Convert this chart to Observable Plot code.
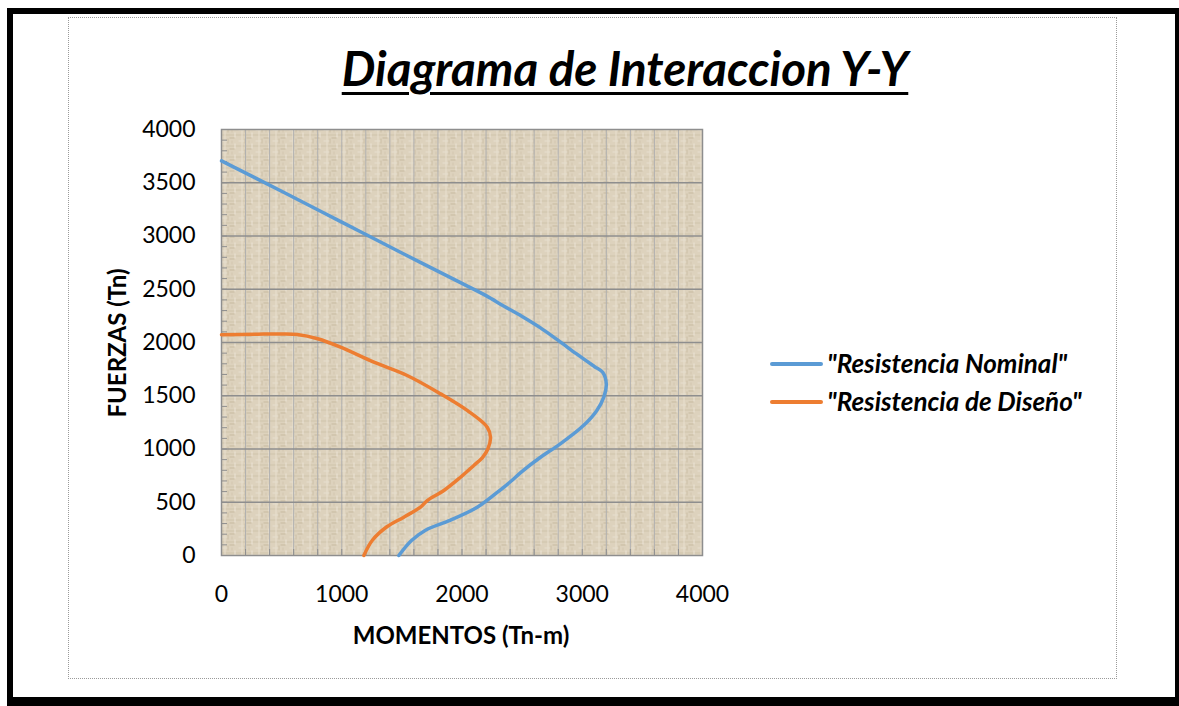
<!DOCTYPE html>
<html>
<head>
<meta charset="utf-8">
<script src="https://cdn.jsdelivr.net/npm/d3@7"></script>
<script src="https://cdn.jsdelivr.net/npm/@observablehq/plot@0.6"></script>
<style>
  html, body { margin: 0; padding: 0; background: #fff; width: 1179px; height: 706px; overflow: hidden; font-family: Lato, "Open Sans", sans-serif; }
  #outer { position: absolute; left: 7px; top: 8px; width: 1174px; height: 699px; box-sizing: border-box; border: 6px solid #000; border-bottom-width: 10px; }
  #inner { position: absolute; left: 68px; top: 17px; width: 1049px; height: 662px; box-sizing: border-box; border: 1px dotted #9a9a9a; }
  #chart { position: absolute; left: 0; top: 0; }
  .t { position: absolute; white-space: nowrap; line-height: 1; color: #000; }
  #title { left: 625px; top: 44px; transform: translateX(-50%); font-size: 47.5px; font-weight: bold; font-style: italic; text-decoration: underline; text-decoration-thickness: 3px; text-underline-offset: 6px; }
  #xlabel { left: 461px; top: 636px; transform: translate(-50%, -53%); font-size: 24px; font-weight: bold; }
  #ylabel { left: 117px; top: 343px; transform: translate(-50%, -50%) rotate(-90deg); font-size: 24px; font-weight: bold; }
  .leg { position: absolute; left: 770px; height: 0; }
  .leg .sw { position: absolute; left: 0; top: -2px; width: 53px; height: 4px; border-radius: 2px; }
  .leg .lt { position: absolute; left: 57px; top: 0; transform: translateY(-53%); font-size: 26px; font-weight: bold; font-style: italic; white-space: nowrap; line-height: 1; }
</style>
</head>
<body>
<svg width="0" height="0" style="position:absolute">
  <defs>
    <pattern id="tex" patternUnits="userSpaceOnUse" width="17" height="11">
      <rect width="17" height="11" fill="#ddd2bd"/>
      <rect x="0" y="2" width="17" height="1" fill="#cfc3ab"/>
      <rect x="3" y="0" width="1" height="11" fill="#e8e0cf"/>
      <rect x="8" y="5" width="5" height="1" fill="#c6b9a0"/>
      <rect x="6" y="6" width="1" height="5" fill="#cabda4"/>
      <rect x="13" y="0" width="1" height="5" fill="#ebe4d6"/>
      <rect x="0" y="8" width="6" height="1" fill="#e6dece"/>
      <rect x="10" y="8" width="1" height="3" fill="#d2c6af"/>
    </pattern>
  </defs>
</svg>
<div id="outer"></div>
<div id="inner"></div>
<div id="chart"></div>
<div class="t" id="title">Diagrama de Interaccion Y-Y</div>
<div class="t" id="xlabel">MOMENTOS (Tn-m)</div>
<div class="t" id="ylabel">FUERZAS (Tn)</div>
<div class="leg" id="leg1" style="top:364px"><div class="sw" style="background:#5b9bd5"></div><div class="lt">"Resistencia Nominal"</div></div>
<div class="leg" id="leg2" style="top:402px"><div class="sw" style="background:#ed7d31"></div><div class="lt">"Resistencia de Diseño"</div></div>
<script>
// Resistencia Nominal (Momento Tn-m, Fuerza Tn)
const momentsNominal = [0, 500, 1000, 1500, 2000, 2200, 2350, 2500, 2650, 2800, 2950, 3100, 3170, 3200, 3180, 3120, 3010, 2820, 2650, 2500, 2400, 2320, 2130, 1900, 1700, 1580, 1475];
const forcesNominal  = [3705, 3420, 3130, 2840, 2555, 2440, 2340, 2245, 2140, 2020, 1895, 1775, 1720, 1610, 1490, 1360, 1220, 1050, 920, 790, 690, 617, 455, 330, 240, 140, 0];
// Resistencia de Diseño
const momentsDesign = [0, 300, 500, 630, 800, 990, 1267, 1544, 1821, 2043, 2210, 2237, 2215, 2170, 2098, 1988, 1849, 1711, 1655, 1516, 1378, 1253, 1184];
const forcesDesign  = [2072, 2078, 2080, 2075, 2035, 1956, 1815, 1690, 1518, 1362, 1205, 1111, 1000, 920, 845, 735, 610, 516, 454, 360, 272, 141, 0];
// Ticks
const xTicks = [0, 1000, 2000, 3000, 4000];
const yTicks = [0, 500, 1000, 1500, 2000, 2500, 3000, 3500, 4000];

const chart = Plot.plot({
  width: 1179,
  height: 706,
  marginLeft: 221,
  marginRight: 477,
  marginTop: 129,
  marginBottom: 151,
  x: {domain: [0, 4000]},
  y: {domain: [0, 4000]},
  style: {background: "transparent", fontFamily: "Lato, sans-serif", color: "#000"},
  marks: [
    Plot.frame({fill: "url(#tex)"}),
    Plot.gridX(d3.range(200, 4000, 200), {stroke: "#b0b0b0", strokeOpacity: 1, strokeWidth: 1}),
    Plot.gridY(d3.range(500, 4000, 500), {stroke: "#8e8e8e", strokeOpacity: 1, strokeWidth: 1.5}),
    Plot.ruleY(d3.range(100, 4000, 100), {stroke: "#8e8e8e", strokeWidth: 1, insetRight: 475}),
    Plot.ruleX(d3.range(200, 4000, 200), {stroke: "#8e8e8e", strokeWidth: 1, insetTop: 420}),
    Plot.frame({stroke: "#8e8e8e", strokeWidth: 1.5}),
    Plot.axisX(xTicks, {tickSize: 0, tickPadding: 30, fontSize: 23, fill: "#000", label: null, tickFormat: d3.format("d")}),
    Plot.axisY(yTicks, {tickSize: 0, tickPadding: 26, fontSize: 23, fill: "#000", label: null, tickFormat: d3.format("d")}),
    Plot.line({length: momentsNominal.length}, {x: momentsNominal, y: forcesNominal, stroke: "#5b9bd5", strokeWidth: 3.5, curve: "catmull-rom"}),
    Plot.line({length: momentsDesign.length}, {x: momentsDesign, y: forcesDesign, stroke: "#ed7d31", strokeWidth: 3.5, curve: "catmull-rom"})
  ]
});
document.getElementById("chart").appendChild(chart);
</script>
</body>
</html>
